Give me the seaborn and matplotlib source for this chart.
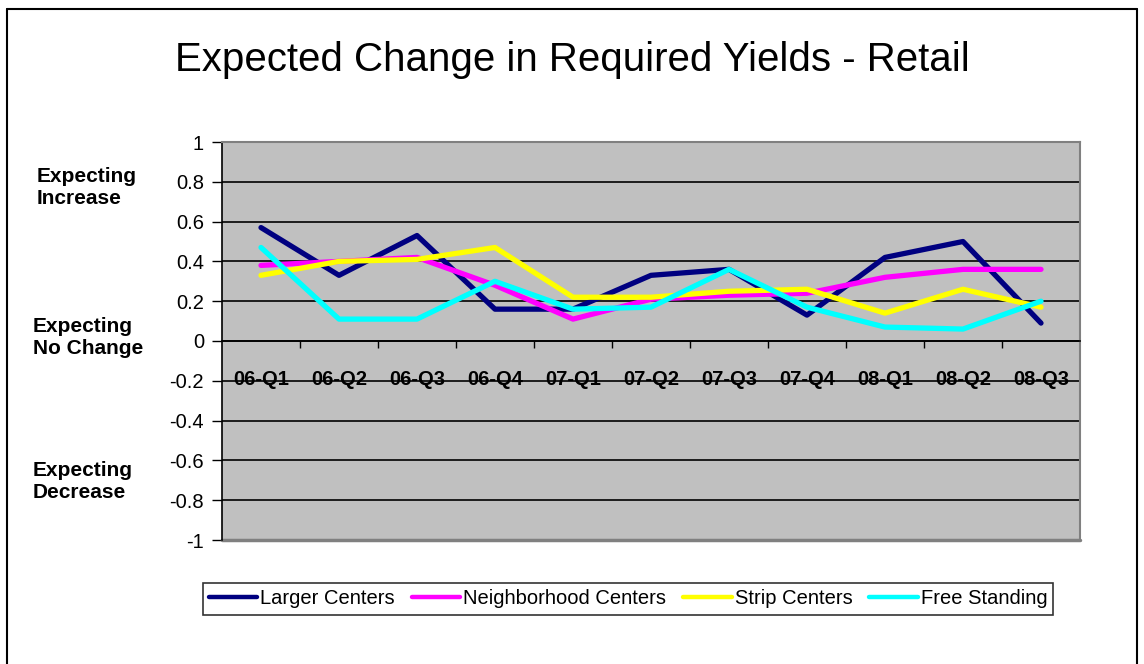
import pandas as pd
import seaborn as sns
import matplotlib.pyplot as plt
from matplotlib.lines import Line2D

# Data
quarters = ["06-Q1", "06-Q2", "06-Q3", "06-Q4", "07-Q1", "07-Q2",
            "07-Q3", "07-Q4", "08-Q1", "08-Q2", "08-Q3"]
larger_centers = [0.57, 0.33, 0.53, 0.16, 0.16, 0.33, 0.36, 0.13, 0.42, 0.50, 0.09]
neighborhood_centers = [0.38, 0.40, 0.42, 0.28, 0.11, 0.21, 0.23, 0.24, 0.32, 0.36, 0.36]
strip_centers = [0.33, 0.40, 0.41, 0.47, 0.22, 0.22, 0.25, 0.26, 0.14, 0.26, 0.17]
free_standing = [0.47, 0.11, 0.11, 0.30, 0.16, 0.17, 0.36, 0.17, 0.07, 0.06, 0.20]

series_names = ["Larger Centers", "Neighborhood Centers", "Strip Centers", "Free Standing"]
colors = ["#000080", "#FF00FF", "#FFFF00", "#00FFFF"]

df = pd.DataFrame({
    "Quarter": quarters * 4,
    "Value": larger_centers + neighborhood_centers + strip_centers + free_standing,
    "Series": [s for s in series_names for _ in quarters],
})

sns.set_style("white")
plt.rcParams["font.family"] = ["Liberation Sans", "DejaVu Sans"]
plt.rcParams["text.color"] = "black"
plt.rcParams["xtick.color"] = "black"
plt.rcParams["ytick.color"] = "black"

fig = plt.figure(figsize=(11.44, 6.64), dpi=100)
ax = fig.add_axes([222 / 1144, 1 - 540 / 664, 858 / 1144, 398 / 664])
ax.set_facecolor("#C0C0C0")

sns.lineplot(data=df, x="Quarter", y="Value", hue="Series", palette=colors,
             linewidth=3.8, sort=False, ax=ax, legend=False)

# y axis
ax.set_ylim(-1, 1)
ax.set_yticks([i / 10 for i in range(-10, 11, 2)])
ax.set_yticklabels(["-1", "-0.8", "-0.6", "-0.4", "-0.2", "0",
                    "0.2", "0.4", "0.6", "0.8", "1"], fontsize=14.5)
ax.tick_params(axis="y", direction="out", length=7, width=1, color="black", pad=6, left=True)
ax.grid(axis="y", color="black", linewidth=1.2)
ax.set_axisbelow(True)

# x axis crossing at zero
ax.set_xlim(-0.5, len(quarters) - 0.5)
ax.spines["bottom"].set_position(("data", 0))
ax.spines["bottom"].set_color("black")
ax.spines["bottom"].set_linewidth(1.2)
ax.set_xticks(range(len(quarters)))
ax.set_xticklabels(quarters, fontsize=14.5, fontweight="bold")
ax.tick_params(axis="x", which="major", length=0, pad=21)
ax.set_xticks([i + 0.5 for i in range(len(quarters) - 1)], minor=True)
ax.tick_params(axis="x", which="minor", direction="out", length=5, width=1, color="black", bottom=True)
ax.set_xlabel("")
ax.set_ylabel("")

ax.spines["left"].set_color("black")
ax.spines["left"].set_linewidth(1.2)
for side in ["top", "right"]:
    ax.spines[side].set_color("#808080")
    ax.spines[side].set_linewidth(1.5)
# bottom frame of plot area
ax.axhline(-1, color="#808080", linewidth=2.5, clip_on=False)

fig.text(0.5, 1 - 60 / 664, "Expected Change in Required Yields - Retail",
         ha="center", va="center", fontsize=29)

# side annotations
for txt, x, y in [("Expecting\nIncrease", 37, 188), ("Expecting\nNo Change", 33, 338),
                  ("Expecting\nDecrease", 33, 481)]:
    fig.text(x / 1144, 1 - y / 664, txt, ha="left", va="center",
             fontsize=15, fontweight="bold", linespacing=1.2)

handles = [Line2D([0], [0], color=c, linewidth=3.2) for c in colors]
leg = fig.legend(handles, series_names, loc="center", ncol=4,
                 bbox_to_anchor=(628 / 1144, 1 - 599 / 664), fontsize=14.5,
                 frameon=True, fancybox=False, edgecolor="black",
                 handlelength=2.4, handletextpad=0.15, columnspacing=0.85,
                 borderpad=0.3, borderaxespad=0)
leg.get_frame().set_linewidth(1.2)

# outer chart border
for xs, ys in [([7, 7], [9, 664]), ([7, 1137], [9, 9]), ([1137, 1137], [9, 664])]:
    fig.add_artist(Line2D([x / 1144 for x in xs], [1 - y / 664 for y in ys],
                          color="black", linewidth=1.5))

fig.savefig("out.png", dpi=100)
